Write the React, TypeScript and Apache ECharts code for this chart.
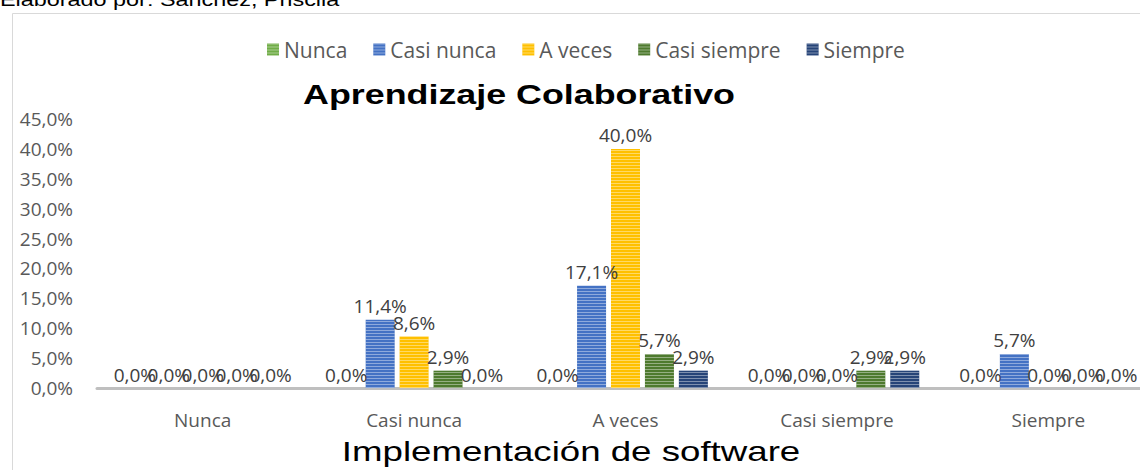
import React, { useEffect, useRef } from "react";
import * as echarts from "echarts";

const categories = ["Nunca", "Casi nunca", "A veces", "Casi siempre", "Siempre"];
const seriesNames = ["Nunca", "Casi nunca", "A veces", "Casi siempre", "Siempre"];
const nuncaValues = [0, 0, 0, 0, 0];
const casiNuncaValues = [0, 11.4, 17.1, 0, 5.7];
const aVecesValues = [0, 8.6, 40.0, 0, 0];
const casiSiempreValues = [0, 2.9, 5.7, 2.9, 0];
const siempreValues = [0, 0, 2.9, 2.9, 0];
const seriesColors = ["#70ad47", "#4472c4", "#ffc000", "#4e7a2e", "#264478"];
const yTicks = { min: 0, max: 45, interval: 5 };
const titleText = "Aprendizaje Colaborativo";
const xAxisTitle = "Implementación de software";
const sourceText = "Elaborado por: Sanchez, Priscila";

const fmt = (v: number) => v.toFixed(1).replace(".", ",") + "%";
const FONT = "'Open Sans', 'Noto Sans', sans-serif";

export default function App() {
  const ref = useRef<HTMLDivElement>(null);
  useEffect(() => {
    if (!ref.current) return;
    const chart = echarts.init(ref.current, undefined, { renderer: "svg" });
    const allValues = [nuncaValues, casiNuncaValues, aVecesValues, casiSiempreValues, siempreValues];
    chart.setOption({
      animation: false,
      backgroundColor: "#ffffff",
      textStyle: { fontFamily: FONT },
      legend: {
        data: seriesNames,
        left: 262,
        top: 34,
        itemWidth: 12,
        itemHeight: 12,
        itemGap: 26,
        icon: "rect",
        textStyle: { fontSize: 21, color: "#595959", fontFamily: FONT },
      },
      grid: { left: 97, top: 119, width: 1057, height: 269, containLabel: false },
      xAxis: {
        type: "category",
        data: categories,
        axisLine: { lineStyle: { color: "#bfbfbf", width: 3 } },
        axisTick: { show: false },
        axisLabel: { fontSize: 19, color: "#595959", margin: 22, fontFamily: FONT },
      },
      yAxis: {
        type: "value",
        min: yTicks.min,
        max: yTicks.max,
        interval: yTicks.interval,
        splitLine: { show: false },
        axisLine: { show: false },
        axisTick: { show: false },
        axisLabel: {
          fontSize: 19,
          color: "#595959",
          margin: 24,
          fontFamily: FONT,
          formatter: (v: number) => fmt(v),
        },
      },
      series: seriesNames.map((name, i) => ({
        name,
        type: "bar",
        data: allValues[i],
        barWidth: 29,
        barGap: "17%",
        itemStyle: {
          color: seriesColors[i],
          decal: {
            symbol: "rect",
            symbolSize: 1,
            dashArrayX: [1, 0],
            dashArrayY: [1, 2],
            rotation: 0,
            color: "rgba(255,255,255,0.4)",
          },
        },
        label: {
          show: true,
          position: "top",
          distance: 4,
          fontSize: 19,
          color: "#404040",
          fontFamily: FONT,
          formatter: (p: any) => fmt(p.value),
        },
      })),
      graphic: [
        {
          type: "rect",
          z: -10,
          shape: { x: 12.5, y: 13.5, width: 1200, height: 500 },
          style: { fill: "none", stroke: "#d9d9d9", lineWidth: 1 },
          silent: true,
        },
        {
          type: "text",
          x: 0,
          y: 0,
          scaleX: 1.3,
          style: {
            text: sourceText,
            fontSize: 18,
            fontFamily: "'Liberation Sans', Arial, sans-serif",
            fill: "#000000",
            align: "left",
            verticalAlign: "middle",
          },
        },
        {
          type: "text",
          x: 519,
          y: 94,
          scaleX: 1.28,
          style: {
            text: titleText,
            fontSize: 28,
            fontWeight: "bold",
            fontFamily: "'Liberation Sans', Arial, sans-serif",
            fill: "#000000",
            align: "center",
            verticalAlign: "middle",
          },
        },
        {
          type: "text",
          x: 571,
          y: 451,
          scaleX: 1.31,
          style: {
            text: xAxisTitle,
            fontSize: 28,
            fontFamily: "'Liberation Sans', Arial, sans-serif",
            fill: "#000000",
            align: "center",
            verticalAlign: "middle",
          },
        },
      ],
    });
    return () => chart.dispose();
  }, []);
  return (
    <div
      ref={ref}
      style={{ position: "fixed", left: 0, top: 0, width: 1160, height: 470 }}
    />
  );
}
